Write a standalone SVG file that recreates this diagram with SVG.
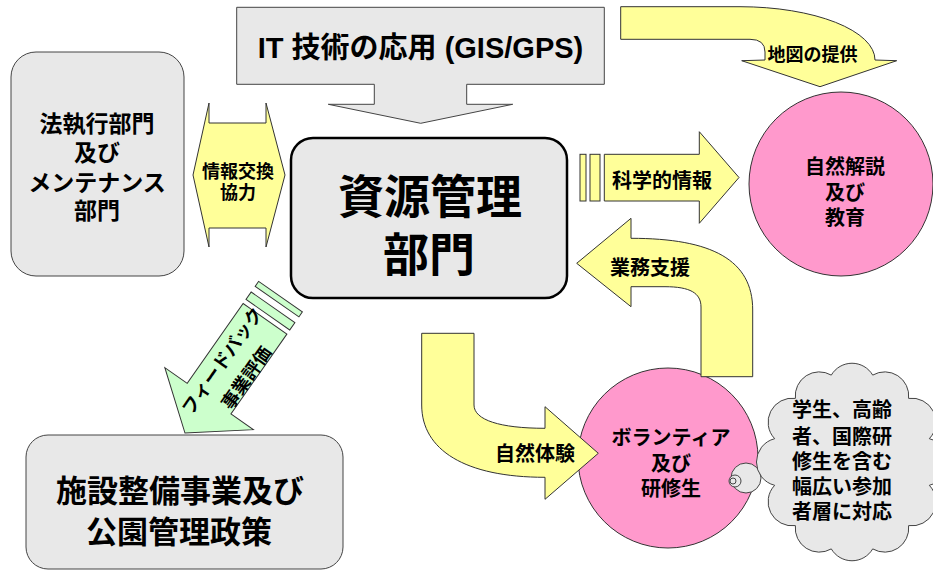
<svg xmlns="http://www.w3.org/2000/svg" width="933" height="571" viewBox="0 0 933 571">
<style>
.box{fill:#e8e8e8;stroke:#444;stroke-width:1}
.core{fill:#e8e8e8;stroke:#000;stroke-width:2.5}
.yel{fill:#ffff99;stroke:#333;stroke-width:1}
.pink{fill:#ff99cc;stroke:#333;stroke-width:1}
.grn{fill:#ccffcc;stroke:#333;stroke-width:1}
.t{font-family:"Noto Sans CJK JP",sans-serif;font-weight:bold;fill:#000;text-anchor:middle;dominant-baseline:central}
.lt{font-family:"Liberation Sans","Noto Sans CJK JP",sans-serif}
</style>
<rect width="933" height="571" fill="#fff"/>

<g id="n-it">
<polygon class="box" points="236.7,7.3 604.3,7.3 604.3,84.3 466.7,84.3 466.7,104.3 512.7,104.3 420.7,123.3 328.3,104.3 374.3,104.3 374.3,84.3 236.7,84.3"/>
<text class="t lt" x="420.5" y="48" font-size="29">IT 技術の応用 (GIS/GPS)</text>
</g>

<g id="n-law">
<rect class="box" x="11" y="52" width="173" height="224" rx="25"/>
<text class="t" x="97" font-size="23"><tspan x="97" y="122">法執行部門</tspan><tspan x="97" y="151">及び</tspan><tspan x="97" y="181">メンテナンス</tspan><tspan x="97" y="209">部門</tspan></text>
</g>

<g id="n-core">
<rect class="core" x="291" y="138" width="276" height="160" rx="22"/>
<text class="t" font-size="46"><tspan x="430" y="192.5">資源管理</tspan><tspan x="429" y="251">部門</tspan></text>
</g>

<g id="n-facility">
<rect class="box" x="26" y="435" width="317" height="134" rx="22"/>
<text class="t" font-size="31"><tspan x="180" y="488">施設整備事業及び</tspan><tspan x="179" y="529">公園管理政策</tspan></text>
</g>

<g id="n-nature">
<circle class="pink" cx="841" cy="184" r="92"/>
<text class="t" font-size="20"><tspan x="845" y="165">自然解説</tspan><tspan x="845" y="191">及び</tspan><tspan x="845" y="216">教育</tspan></text>
</g>

<g id="n-volunteer">
<circle class="pink" cx="668" cy="458" r="90"/>
<text class="t" font-size="20"><tspan x="671" y="436">ボランティア</tspan><tspan x="671" y="462">及び</tspan><tspan x="671" y="487">研修生</tspan></text>
</g>

<g id="connectors">
<g id="c-exchange">
<polygon class="yel" points="193,175 209,103 209,123 266,123 266,103 285,175 266,247 266,228 209,228 209,247"/>
<text class="t" font-size="18"><tspan x="238" y="170">情報交換</tspan><tspan x="238" y="190.5">協力</tspan></text>
</g>
<g id="c-science">
<rect class="yel" x="580" y="154.3" width="6" height="46.7"/>
<rect class="yel" x="590" y="154.3" width="10" height="46.7"/>
<polygon class="yel" points="604.3,154.3 699.3,154.3 699.3,131.7 739,177.5 699.3,223.3 699.3,201 604.3,201"/>
<text class="t" x="662" y="179" font-size="20">科学的情報</text>
</g>
<g id="c-map">
<path class="yel" d="M620.7,6.7 L740,6.7 A135,53.3 0 0 1 875,60 L896.7,60.7 L820,86.7 L741.7,60.7 L765,60 L765,52 Q765,39.3 750,39.3 L620.7,39.3 Z"/>
<text class="t" x="812.5" y="53" font-size="18">地図の提供</text>
</g>
<g id="c-support">
<path class="yel" d="M752.7,376.7 L752.7,310 C752.7,260 712,238.3 631,238.3 L631,218.3 L576.7,263.3 L631,306.7 L631,286.7 L665,286.7 C690,286.7 701,293 701,307 L701,376.7 Z"/>
<text class="t" x="650" y="266" font-size="20">業務支援</text>
</g>
<g id="c-experience">
<path class="yel" d="M421.7,333.3 L421.7,405 C421.7,450 465,477.3 545,477.3 L545,499.3 L598.3,453.3 L545,406.7 L545,428.3 C500,428.3 474,420 474,405 L474,333.3 Z"/>
<text class="t" x="535" y="452" font-size="20">自然体験</text>
</g>
<g id="c-feedback" transform="translate(265,318.8) rotate(125)">
<rect class="grn" x="-27" y="-26.7" width="6" height="53.4"/>
<rect class="grn" x="-14" y="-26.7" width="9" height="53.4"/>
<polygon class="grn" points="0,-26.7 97.5,-26.7 97.5,-54 139.5,0 97.5,54 97.5,26.7 0,26.7"/>
<text class="t" transform="translate(59,0) rotate(180)" font-size="18"><tspan x="0" y="-12.4">フィードバック</tspan><tspan x="0" y="17">事業評価</tspan></text>
</g>
</g>

<g id="n-cloud">
<circle class="box" cx="746" cy="478" r="15"/>
<circle class="box" cx="735" cy="481" r="6"/>
<circle class="box" cx="733" cy="481" r="3"/>
<path class="box" d="M929.3,485.3 A24,24 0 0 1 908.6,525.6 A24,24 0 0 1 872.7,548.9 A24,24 0 0 1 831.3,548.9 A24,24 0 0 1 795.4,525.6 A24,24 0 0 1 774.7,485.3 A24,24 0 0 1 774.7,438.7 A24,24 0 0 1 795.4,398.4 A24,24 0 0 1 831.3,375.1 A24,24 0 0 1 872.7,375.1 A24,24 0 0 1 908.6,398.4 A24,24 0 0 1 929.3,438.7 A24,24 0 0 1 929.3,485.3 Z"/>
<text class="t" font-size="20"><tspan x="842" y="408">学生、高齢</tspan><tspan x="842" y="435">者、国際研</tspan><tspan x="842" y="460">修生を含む</tspan><tspan x="842" y="485">幅広い参加</tspan><tspan x="842" y="510">者層に対応</tspan></text>
</g>
</svg>
